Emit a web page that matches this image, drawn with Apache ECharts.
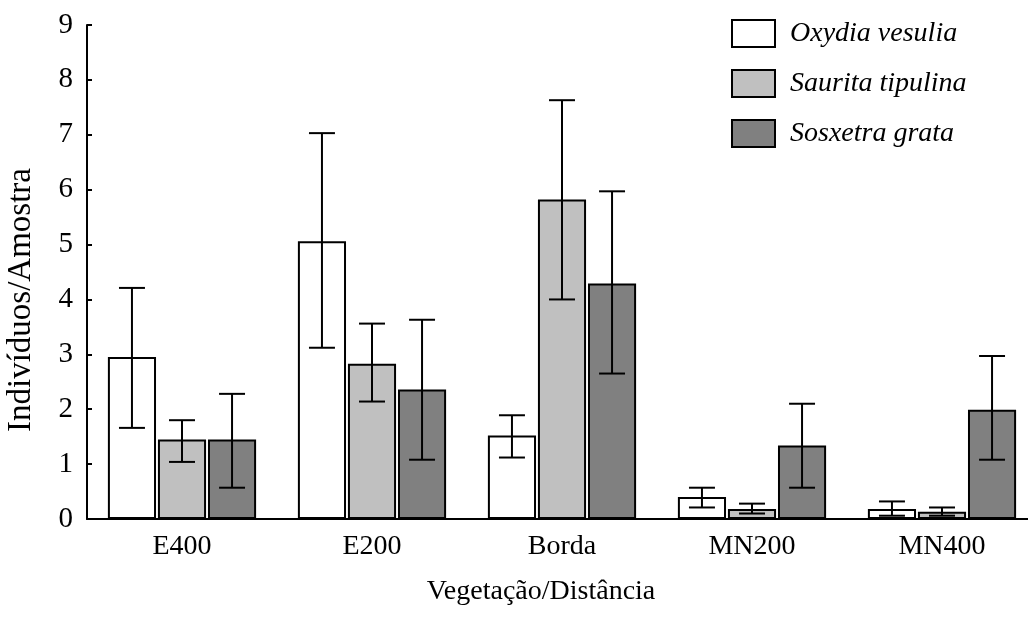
<!DOCTYPE html>
<html>
<head>
<meta charset="utf-8">
<script src="https://cdn.jsdelivr.net/npm/echarts@6/dist/echarts.min.js"></script>
<style>html,body{margin:0;padding:0;background:#fff}#c{width:1028px;height:618px}</style>
</head>
<body>
<div id="c"></div>
<script>
const categories = ['E400', 'E200', 'Borda', 'MN200', 'MN400'];
const seriesNames = ['Oxydia vesulia', 'Saurita tipulina', 'Sosxetra grata'];
const oxydiaMean  = [2.95, 5.06, 1.52, 0.40, 0.18];
const oxydiaLow   = [1.66, 3.12, 1.12, 0.21, 0.06];
const oxydiaHigh  = [4.21, 7.03, 1.89, 0.57, 0.32];
const sauritaMean = [1.45, 2.83, 5.82, 0.18, 0.13];
const sauritaLow  = [1.04, 2.14, 4.00, 0.10, 0.06];
const sauritaHigh = [1.80, 3.56, 7.63, 0.28, 0.21];
const sosxMean    = [1.45, 2.36, 4.29, 1.34, 1.99];
const sosxLow     = [0.57, 1.08, 2.65, 0.57, 1.08];
const sosxHigh    = [2.28, 3.63, 5.97, 2.10, 2.97];
const yTicks = [0, 1, 2, 3, 4, 5, 6, 7, 8, 9];

const colors = ['#ffffff', '#c0c0c0', '#808080'];
const means = [oxydiaMean, sauritaMean, sosxMean];
const lows = [oxydiaLow, sauritaLow, sosxLow];
const highs = [oxydiaHigh, sauritaHigh, sosxHigh];

const CAT_GAP = 0.22, BAR_GAP = 0.04, NBARS = 3;
const FONT = '"Liberation Serif", "Times New Roman", serif';

function errorSeries(idx) {
  return {
    type: 'custom',
    name: seriesNames[idx] + ' err',
    z: 10,
    data: categories.map((c, i) => [i, lows[idx][i], highs[idx][i]]),
    renderItem: function (params, api) {
      const band = api.size([1, 0])[0];
      const avail = band * (1 - CAT_GAP);
      const bw = avail / (NBARS + (NBARS - 1) * BAR_GAP);
      const step = bw * (1 + BAR_GAP);
      const off = (idx - (NBARS - 1) / 2) * step;
      const lo = api.coord([api.value(0), api.value(1)]);
      const hi = api.coord([api.value(0), api.value(2)]);
      const x = lo[0] + off;
      const cap = bw * 0.27;
      const st = { stroke: '#000', lineWidth: 2 };
      return {
        type: 'group',
        children: [
          { type: 'line', shape: { x1: x, y1: lo[1], x2: x, y2: hi[1] }, style: st },
          { type: 'line', shape: { x1: x - cap, y1: hi[1], x2: x + cap, y2: hi[1] }, style: st },
          { type: 'line', shape: { x1: x - cap, y1: lo[1], x2: x + cap, y2: lo[1] }, style: st }
        ]
      };
    }
  };
}

const barSeries = seriesNames.map((n, idx) => ({
  type: 'bar',
  name: n,
  data: means[idx],
  barCategoryGap: (CAT_GAP * 100) + '%',
  barGap: (BAR_GAP * 100) + '%',
  itemStyle: { color: colors[idx], borderColor: '#000', borderWidth: 2 },
  z: 2
}));

const chart = echarts.init(document.getElementById('c'));
chart.setOption({
  animation: false,
  backgroundColor: '#fff',
  textStyle: { fontFamily: FONT },
  legend: {
    orient: 'vertical',
    left: 726,
    top: 14,
    itemWidth: 43,
    itemHeight: 27,
    itemGap: 21,
    icon: 'rect',
    data: seriesNames,
    textStyle: { fontFamily: FONT, fontStyle: 'italic', fontSize: 28, color: '#000', padding: [0, 0, 0, 10] }
  },
  grid: { left: 87, top: 25, width: 950, height: 494, containLabel: false, outerBoundsMode: 'none' },
  xAxis: {
    type: 'category',
    data: categories,
    name: 'Vegetação/Distância',
    nameLocation: 'middle',
    nameGap: 59,
    nameTextStyle: { fontFamily: FONT, fontSize: 28, color: '#000', padding: [0, 42, 0, 0] },
    axisLine: { lineStyle: { color: '#000', width: 2 } },
    axisTick: { inside: true, length: 5, lineStyle: { color: '#000', width: 2 } },
    axisLabel: { fontFamily: FONT, fontSize: 28, color: '#000', margin: 14 },
    splitLine: { show: false }
  },
  yAxis: {
    type: 'value',
    min: yTicks[0],
    max: yTicks[yTicks.length - 1],
    interval: 1,
    name: 'Indivíduos/Amostra',
    nameLocation: 'middle',
    nameRotate: 90,
    nameGap: 49,
    nameTextStyle: { fontFamily: FONT, fontSize: 33, color: '#000', padding: [0, 56, 0, 0] },
    axisLine: { show: true, lineStyle: { color: '#000', width: 2 } },
    axisTick: { show: true, inside: true, length: 5, lineStyle: { color: '#000', width: 2 } },
    axisLabel: { fontFamily: FONT, fontSize: 29, color: '#000', margin: 14 },
    splitLine: { show: false }
  },
  series: barSeries.concat([0, 1, 2].map(errorSeries))
});
</script>
</body>
</html>
